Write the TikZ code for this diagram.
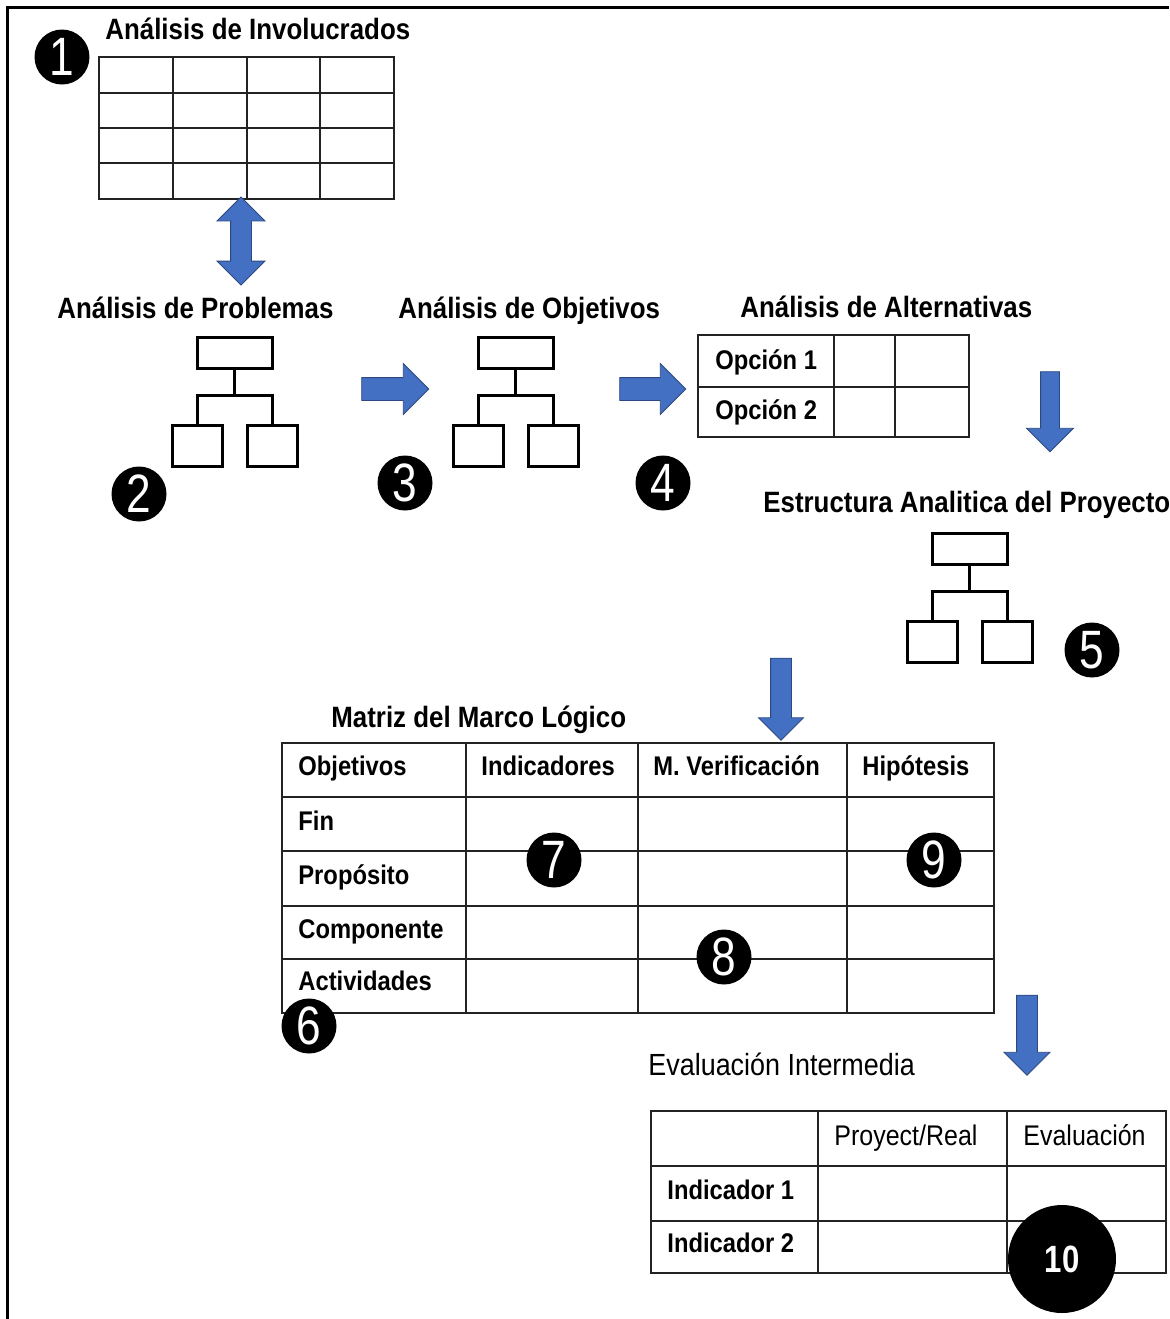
\documentclass[tikz,border=0pt]{standalone}
\usepackage{fontspec}
\setmainfont{Liberation Sans}[FakeStretch=0.88]
\newfontfamily\digitfont{Liberation Sans}[FakeStretch=0.82]
\usetikzlibrary{shapes.arrows}

\definecolor{flowblue}{RGB}{68,112,196}
\definecolor{gridline}{RGB}{35,35,35}

\tikzset{
  heading/.style={anchor=west, inner sep=0pt, text height=0.72em, text depth=0pt,
    font=\bfseries\fontsize{14.7}{16}\selectfont},
  cell/.style={anchor=west, inner sep=0pt, text height=0.72em, text depth=0pt,
    font=\bfseries\fontsize{13.5}{15}\selectfont},
  plaincell/.style={cell, font=\fontsize{14.2}{16}\selectfont},
  plainheading/.style={heading, font=\fontsize{15.3}{17}\selectfont},
  badge/.style={circle, fill=black, text=white, inner sep=0pt, minimum size=27.5pt,
    font=\digitfont\fontsize{27}{27}\selectfont},
  bigbadge/.style={badge, minimum size=54pt, font=\digitfont\bfseries\fontsize{19}{19}\selectfont},
  gridrule/.style={draw=gridline, line width=1pt},
  treebox/.style={draw=black, line width=1.5pt, inner sep=0pt, fill=white},
  treeline/.style={draw=black, line width=1.5pt},
  flowarrow/.style={fill=flowblue, draw=flowblue!65!black, line width=0.4pt,
    inner xsep=0pt},
  orgtree/.pic={
    \node[treebox, minimum width=37.5pt, minimum height=15.5pt] (-top) at (0,15.5) {};
    \node[treebox, minimum width=25pt, minimum height=20.5pt] (-l) at (-37.5,108.5) {};
    \node[treebox, minimum width=25pt, minimum height=20.5pt] (-r) at (37.5,108.5) {};
    \coordinate (-j) at (0,58);
    \draw[treeline] (-top.south) -- (-j);
    \draw[treeline] (-l.north) |- (-j) -| (-r.north);
  }
}

\begin{document}
\begin{tikzpicture}[x=0.5pt,y=-0.5pt]
\useasboundingbox (0,0) rectangle (1169,1319);
\clip (0,0) rectangle (1169,1319);

% frame
\draw[line width=1.5pt] (7,1319) -- (7,7) -- (1169,7);

% 1 - stakeholder analysis grid
\node[heading] (tInv) at (105,32) {Análisis de Involucrados};
\draw[gridrule] (99,57) rectangle (394,199);
\foreach \x in {173,247,320} \draw[gridrule] (\x,57) -- (\x,199);
\foreach \y in {93,128,163} \draw[gridrule] (99,\y) -- (394,\y);
\node[badge] (n1) at (62,57) {1};

\node[flowarrow, double arrow, rotate=90, minimum height=44pt, inner ysep=5pt,
  double arrow head extend=6.75pt] (aInvProb) at (241,241) {};

% 2 - problem tree
\node[heading] (tProb) at (57,311) {Análisis de Problemas};
\pic (probtree) at (234.5,337) {orgtree};
\node[badge] (n2) at (139,494) {2};

\node[flowarrow, single arrow, minimum height=33.5pt, inner ysep=5.5pt,
  single arrow head extend=7pt] (aProbObj) at (389.5,389) {};

% 3 - objective tree
\node[heading] (tObj) at (398,311) {Análisis de Objetivos};
\pic (objtree) at (515.5,337) {orgtree};
\node[badge] (n3) at (405,483) {3};

\node[flowarrow, single arrow, minimum height=33pt, inner ysep=5.5pt,
  single arrow head extend=7pt] (aObjAlt) at (647,389) {};
\node[badge] (n4) at (663,483) {4};

% 4 - alternatives
\node[heading] (tAlt) at (740,310) {Análisis de Alternativas};
\draw[gridrule] (698,335) rectangle (969,437);
\foreach \x in {834,895} \draw[gridrule] (\x,335) -- (\x,437);
\draw[gridrule] (698,387) -- (969,387);
\node[cell] (op1) at (715,362) {Opción 1};
\node[cell] (op2) at (715,412) {Opción 2};

\node[flowarrow, single arrow, rotate=-90, minimum height=40pt, inner ysep=4.5pt,
  single arrow head extend=7pt] (aAltEst) at (1050,407) {};

% 5 - project structure
\node[heading] (tEst) at (763,505) {Estructura Analitica del Proyecto};
\pic (esttree) at (969.5,533) {orgtree};
\node[badge] (n5) at (1092,650) {5};

\node[flowarrow, single arrow, rotate=-90, minimum height=41pt, inner ysep=5pt,
  single arrow head extend=6pt] (aEstMml) at (781,694) {};

% 6-9 - logframe matrix
\node[heading] (tMml) at (331,720) {Matriz del Marco Lógico};
\draw[gridrule] (282,743) rectangle (994,1013);
\foreach \x in {466,638,847} \draw[gridrule] (\x,743) -- (\x,1013);
\foreach \y in {797,851,906,959} \draw[gridrule] (282,\y) -- (994,\y);
\node[cell] (hObj) at (298,768) {Objetivos};
\node[cell] (hInd) at (481,768) {Indicadores};
\node[cell] (hVer) at (653,768) {M. Verificación};
\node[cell] (hHip) at (862,768) {Hipótesis};
\node[cell] (rFin) at (298,823) {Fin};
\node[cell] (rPro) at (298,877) {Propósito};
\node[cell] (rCom) at (298,931) {Componente};
\node[cell] (rAct) at (298,983) {Actividades};
\node[badge] (n6) at (309,1026) {6};
\node[badge] (n7) at (554,860) {7};
\node[badge] (n8) at (724,957) {8};
\node[badge] (n9) at (934,860) {9};

\node[flowarrow, single arrow, rotate=-90, minimum height=40pt, inner ysep=5pt,
  single arrow head extend=6.25pt] (aMmlEva) at (1027,1030) {};

% 10 - mid-term evaluation
\node[plainheading] (tEva) at (648,1068) {Evaluación Intermedia};
\draw[gridrule] (651,1111) rectangle (1166,1273);
\foreach \x in {818,1007} \draw[gridrule] (\x,1111) -- (\x,1273);
\foreach \y in {1166,1221} \draw[gridrule] (651,\y) -- (1166,\y);
\node[plaincell] (hPR) at (834,1138) {Proyect/Real};
\node[plaincell] (hEv) at (1023,1138) {Evaluación};
\node[cell] (rI1) at (667,1192) {Indicador 1};
\node[cell] (rI2) at (667,1245) {Indicador 2};
\node[bigbadge] (n10) at (1062,1259) {10};
\end{tikzpicture}
\end{document}
